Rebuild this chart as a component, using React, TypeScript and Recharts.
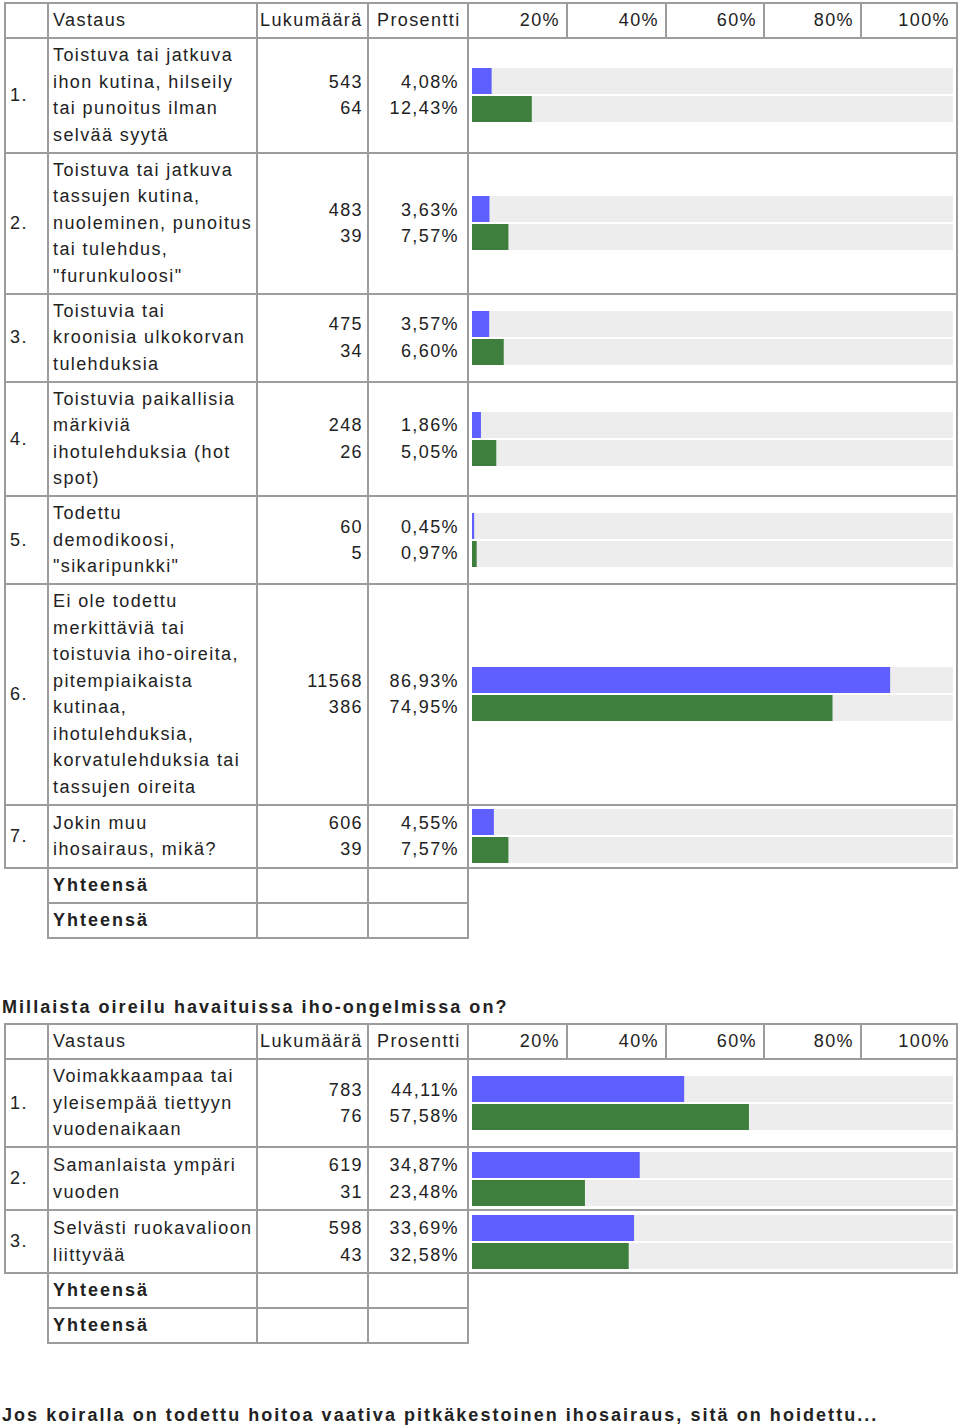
import { BarChart, Bar, XAxis, YAxis } from 'recharts';

const palette = {
  text: '#222222',
  border: '#9c9c9c',
  track: '#ededed',
  blue: '#5f5fff',
  green: '#3e7f3e',
};

const headers = ['Vastaus', 'Lukumäärä', 'Prosentti'];
const scaleTicks = ['20%', '40%', '60%', '80%', '100%'];
const totalLabel = 'Yhteensä';

// first question
const skinAnswers = [
  ['Toistuva tai jatkuva', 'ihon kutina, hilseily', 'tai punoitus ilman', 'selvää syytä'],
  ['Toistuva tai jatkuva', 'tassujen kutina,', 'nuoleminen, punoitus', 'tai tulehdus,', '"furunkuloosi"'],
  ['Toistuvia tai', 'kroonisia ulkokorvan', 'tulehduksia'],
  ['Toistuvia paikallisia', 'märkiviä', 'ihotulehduksia (hot', 'spot)'],
  ['Todettu', 'demodikoosi,', '"sikaripunkki"'],
  ['Ei ole todettu', 'merkittäviä tai', 'toistuvia iho-oireita,', 'pitempiaikaista', 'kutinaa,', 'ihotulehduksia,', 'korvatulehduksia tai', 'tassujen oireita'],
  ['Jokin muu', 'ihosairaus, mikä?'],
];
const skinCountA = [543, 483, 475, 248, 60, 11568, 606];
const skinCountB = [64, 39, 34, 26, 5, 386, 39];
const skinPctA = [4.08, 3.63, 3.57, 1.86, 0.45, 86.93, 4.55];
const skinPctB = [12.43, 7.57, 6.6, 5.05, 0.97, 74.95, 7.57];

// second question
const symptomTitle = 'Millaista oireilu havaituissa iho-ongelmissa on?';
const symptomAnswers = [
  ['Voimakkaampaa tai', 'yleisempää tiettyyn', 'vuodenaikaan'],
  ['Samanlaista ympäri', 'vuoden'],
  ['Selvästi ruokavalioon', 'liittyvää'],
];
const symptomCountA = [783, 619, 598];
const symptomCountB = [76, 31, 43];
const symptomPctA = [44.11, 34.87, 33.69];
const symptomPctB = [57.58, 23.48, 32.58];

const nextTitle = 'Jos koiralla on todettu hoitoa vaativa pitkäkestoinen ihosairaus, sitä on hoidettu...';

const COLS = [5, 48, 257, 368, 468, 957];
const SCALE_COLS = [468, 567, 666, 764, 861, 957];
const LINE = 26.5;
const FONT = '"Liberation Sans", Arial, Helvetica, sans-serif';
const textStyle = { fontFamily: FONT, fontSize: 18, letterSpacing: 1.4, color: palette.text, lineHeight: `${LINE}px`, whiteSpace: 'nowrap' as const };

const fmtPct = (v: number) => v.toFixed(2).replace('.', ',') + '%';

function rowHeight(lines: number, bars: boolean) {
  const h = LINE * lines + 8.5;
  return bars ? Math.max(h, 63) : h;
}

function Box({ x0, x1, y0, y1 }: { x0: number; x1: number; y0: number; y1: number }) {
  return (
    <div
      style={{
        position: 'absolute',
        left: x0 - 1,
        top: y0 - 1,
        width: x1 - x0 + 2,
        height: y1 - y0 + 2,
        border: `2px solid ${palette.border}`,
        boxSizing: 'border-box',
      }}
    />
  );
}

function Lines({ x0, x1, y0, y1, lines, align = 'left', pad = 5, bold = false }: {
  x0: number; x1: number; y0: number; y1: number; lines: string[]; align?: 'left' | 'right'; pad?: number; bold?: boolean;
}) {
  return (
    <div
      style={{
        position: 'absolute',
        left: x0,
        top: y0,
        width: x1 - x0,
        height: y1 - y0,
        display: 'flex',
        flexDirection: 'column',
        justifyContent: 'center',
        alignItems: align === 'left' ? 'flex-start' : 'flex-end',
        paddingLeft: align === 'left' ? pad : 0,
        paddingRight: align === 'right' ? pad : 0,
        boxSizing: 'border-box',
      }}
    >
      {lines.map((l, i) => (
        <div key={i} style={{ ...textStyle, fontWeight: bold ? 'bold' : 'normal', letterSpacing: bold ? 2 : textStyle.letterSpacing }}>{l}</div>
      ))}
    </div>
  );
}

function PairBars({ y0, y1, a, b, label }: { y0: number; y1: number; a: number; b: number; label: string }) {
  const data = [{ label, a, b }];
  const h = 56;
  const mid = (y0 + y1) / 2;
  return (
    <div style={{ position: 'absolute', left: 472, top: mid - h / 2 }}>
      <BarChart width={481} height={h} data={data} layout="vertical" margin={{ top: 0, right: 0, bottom: 0, left: 0 }} barGap={2} barCategoryGap={0}>
        <XAxis type="number" domain={[0, 100]} hide />
        <YAxis type="category" dataKey="label" hide />
        <Bar dataKey="a" fill={palette.blue} barSize={26} background={{ fill: palette.track }} isAnimationActive={false} />
        <Bar dataKey="b" fill={palette.green} barSize={26} background={{ fill: palette.track }} isAnimationActive={false} />
      </BarChart>
    </div>
  );
}

function ResultTable({ top, answers, countA, countB, pctA, pctB }: {
  top: number; answers: string[][]; countA: number[]; countB: number[]; pctA: number[]; pctB: number[];
}) {
  const parts: JSX.Element[] = [];
  const headH = rowHeight(1, false);
  // header row
  for (let c = 0; c < 4; c++) {
    parts.push(<Box key={`h${c}`} x0={COLS[c]} x1={COLS[c + 1]} y0={top} y1={top + headH} />);
  }
  for (let c = 0; c < 5; c++) {
    parts.push(<Box key={`s${c}`} x0={SCALE_COLS[c]} x1={SCALE_COLS[c + 1]} y0={top} y1={top + headH} />);
    parts.push(<Lines key={`st${c}`} x0={SCALE_COLS[c]} x1={SCALE_COLS[c + 1]} y0={top} y1={top + headH} lines={[scaleTicks[c]]} align="right" pad={7} />);
  }
  parts.push(<Lines key="hv" x0={COLS[1]} x1={COLS[2]} y0={top} y1={top + headH} lines={[headers[0]]} />);
  parts.push(<Lines key="hl" x0={COLS[2]} x1={COLS[3]} y0={top} y1={top + headH} lines={[headers[1]]} pad={3} />);
  parts.push(<Lines key="hp" x0={COLS[3]} x1={COLS[4]} y0={top} y1={top + headH} lines={[headers[2]]} pad={9} />);

  let y = top + headH;
  answers.forEach((ans, i) => {
    const h = rowHeight(ans.length, true);
    const y0 = y;
    const y1 = y + h;
    for (let c = 0; c < 5; c++) {
      parts.push(<Box key={`r${i}c${c}`} x0={COLS[c]} x1={COLS[c + 1]} y0={y0} y1={y1} />);
    }
    parts.push(<Lines key={`n${i}`} x0={COLS[0]} x1={COLS[1]} y0={y0} y1={y1} lines={[`${i + 1}.`]} />);
    parts.push(<Lines key={`a${i}`} x0={COLS[1]} x1={COLS[2]} y0={y0} y1={y1} lines={ans} />);
    parts.push(<Lines key={`c${i}`} x0={COLS[2]} x1={COLS[3]} y0={y0} y1={y1} lines={[String(countA[i]), String(countB[i])]} align="right" pad={5} />);
    parts.push(<Lines key={`p${i}`} x0={COLS[3]} x1={COLS[4]} y0={y0} y1={y1} lines={[fmtPct(pctA[i]), fmtPct(pctB[i])]} align="right" pad={9} />);
    parts.push(<PairBars key={`b${i}`} y0={y0} y1={y1} a={pctA[i]} b={pctB[i]} label={`${i + 1}.`} />);
    y = y1;
  });

  for (let t = 0; t < 2; t++) {
    const h = rowHeight(1, false);
    for (let c = 1; c < 4; c++) {
      parts.push(<Box key={`t${t}c${c}`} x0={COLS[c]} x1={COLS[c + 1]} y0={y} y1={y + h} />);
    }
    parts.push(<Lines key={`tl${t}`} x0={COLS[1]} x1={COLS[2]} y0={y} y1={y + h} lines={[totalLabel]} bold />);
    y += h;
  }
  return <>{parts}</>;
}

export default function App() {
  return (
    <div style={{ position: 'absolute', left: 0, top: 0, width: 960, height: 1428, background: '#fff', overflow: 'hidden' }}>
      <ResultTable top={3} answers={skinAnswers} countA={skinCountA} countB={skinCountB} pctA={skinPctA} pctB={skinPctB} />
      <div style={{ ...textStyle, position: 'absolute', left: 2, top: 994, fontWeight: 'bold', letterSpacing: 2.05 }}>{symptomTitle}</div>
      <ResultTable top={1024} answers={symptomAnswers} countA={symptomCountA} countB={symptomCountB} pctA={symptomPctA} pctB={symptomPctB} />
      <div style={{ ...textStyle, position: 'absolute', left: 2, top: 1402, fontWeight: 'bold', letterSpacing: 2.05 }}>{nextTitle}</div>
    </div>
  );
}
